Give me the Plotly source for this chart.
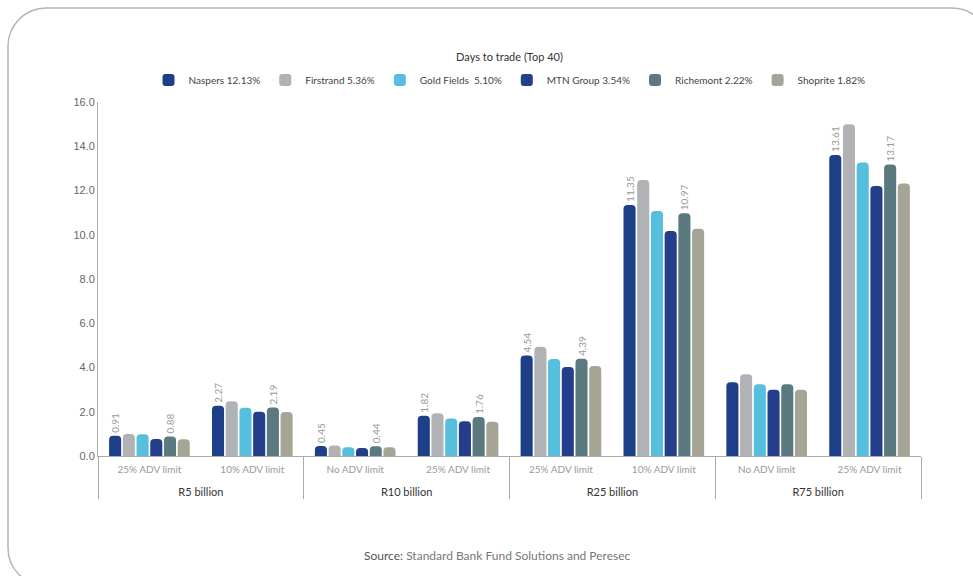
import plotly.graph_objects as go

# ---- data ----
outer = ["R5 billion", "R5 billion", "R10 billion", "R10 billion",
         "R25 billion", "R25 billion", "R75 billion", "R75 billion"]
inner = ["25% ADV limit", "10% ADV limit", "No ADV limit", "25% ADV limit",
         "25% ADV limit", "10% ADV limit", "No ADV limit", "25% ADV limit"]

series_names = ["Naspers 12.13%", "Firstrand 5.36%", "Gold Fields  5.10%",
                "MTN Group 3.54%", "Richemont 2.22%", "Shoprite 1.82%"]
naspers   = [0.91, 2.27, 0.45, 1.82, 4.54, 11.35, 3.33, 13.61]
firstrand = [0.99, 2.47, 0.48, 1.93, 4.94, 12.47, 3.69, 14.99]
goldf     = [0.98, 2.18, 0.39, 1.70, 4.38, 11.07, 3.24, 13.27]
mtn       = [0.77, 2.00, 0.36, 1.57, 4.02, 10.17, 3.00, 12.20]
richemont = [0.88, 2.19, 0.44, 1.76, 4.39, 10.97, 3.24, 13.17]
shoprite  = [0.76, 1.99, 0.39, 1.55, 4.07, 10.27, 3.00, 12.32]
values = [naspers, firstrand, goldf, mtn, richemont, shoprite]
# which bars carry a value label
label_show = [True, True, True, True, True, True, False, True]
labelled_series = [0, 4]

colors = ["#1d3f87", "#b0b2b5", "#55bfdd", "#243e8b", "#5b7a80", "#a6a595"]

W, H = 973, 576
L, R, T, B = 98, 52, 102, 120
pw, ph = W - L - R, H - T - B

# keep the order of inner categories within each outer group:
# make repeated inner labels unique per group with zero-width characters
seen = {}
inner_x = []
for o, i in zip(outer, inner):
    key = i
    n = 0
    while key in seen and seen[key] != o:
        n += 1
        key = i + "\u200b" * n
    seen.setdefault(key, o)
    inner_x.append(key + "<br>\u00a0")
outer_x = ["<span style='color:#333;font-size:11px'>%s</span>" % o for o in outer]

fig = go.Figure()
for i, (name, vals) in enumerate(zip(series_names, values)):
    if i in labelled_series:
        txt = [("%.2f" % v) if s else "" for v, s in zip(vals, label_show)]
    else:
        txt = None
    fig.add_trace(go.Bar(
        x=[outer_x, inner_x], y=vals, name=name,
        marker=dict(color=colors[i], line=dict(width=0), cornerradius=4),
        text=txt, textposition="outside", textangle=-90,
        textfont=dict(size=10, color="#999", family="Lato"),
        constraintext="none", cliponaxis=False,
    ))

def px2paper(x, y):
    return (x - L) / pw, (H - B - y) / ph

def P(x, y):
    a, b = px2paper(x, y)
    return "%.5f,%.5f" % (a, b)

# rounded frame around the figure
x0, y0, x1, y1, r = 8, 8, 990, 586, 38
k = 0.45
path = ("M" + P(x0 + r, y0) + " L" + P(x1 - r, y0) +
        " C" + P(x1 - r * k, y0) + " " + P(x1, y0 + r * k) + " " + P(x1, y0 + r) +
        " L" + P(x1, y1 - r) +
        " C" + P(x1, y1 - r * k) + " " + P(x1 - r * k, y1) + " " + P(x1 - r, y1) +
        " L" + P(x0 + r, y1) +
        " C" + P(x0 + r * k, y1) + " " + P(x0, y1 - r * k) + " " + P(x0, y1 - r) +
        " L" + P(x0, y0 + r) +
        " C" + P(x0, y0 + r * k) + " " + P(x0 + r * k, y0) + " " + P(x0 + r, y0) + " Z")

fig.update_layout(
    width=W, height=H,
    margin=dict(l=L, r=R, t=T, b=B),
    paper_bgcolor="white", plot_bgcolor="white",
    font=dict(family="Lato", color="#555"),
    barmode="group", bargap=0.2, bargroupgap=0.12,
    showlegend=True,
    legend=dict(orientation="h", x=0.5, xanchor="center",
                y=(H - B - 80) / ph, yanchor="middle",
                font=dict(size=10, color="#444", family="Lato"),
                itemwidth=30, traceorder="normal"),
    title=dict(text="Days to trade (Top 40)", x=(L + pw / 2) / W, xanchor="center",
               y=1 - 57 / H, yanchor="middle",
               font=dict(size=11, color="#333", family="Lato")),
    xaxis=dict(type="multicategory", showline=True, linecolor="#aaa", linewidth=1,
               showgrid=False, ticks="", ticklabelstandoff=4,
               tickfont=dict(size=10, color="#999", family="Lato"),
               showdividers=True, dividercolor="#aaa", dividerwidth=1),
    yaxis=dict(range=[0, 16], dtick=2, tickformat=".1f", showline=True,
               linecolor="#aaa", linewidth=1, showgrid=False, zeroline=False,
               ticks="", tickfont=dict(size=11, color="#666", family="Liberation Sans")),
    shapes=[dict(type="path", xref="paper", yref="paper", path=path,
                 line=dict(color="#b5b5b5", width=1.5), layer="below")],
    annotations=[dict(text="<span style='color:#555'>Source:</span> Standard Bank Fund Solutions and Peresec",
                      xref="paper", yref="paper", x=px2paper(497, 0)[0], y=px2paper(0, 555)[1],
                      xanchor="center", yanchor="middle", showarrow=False,
                      font=dict(size=12, color="#777", family="Lato"))],
)

fig.write_html("out.html")
